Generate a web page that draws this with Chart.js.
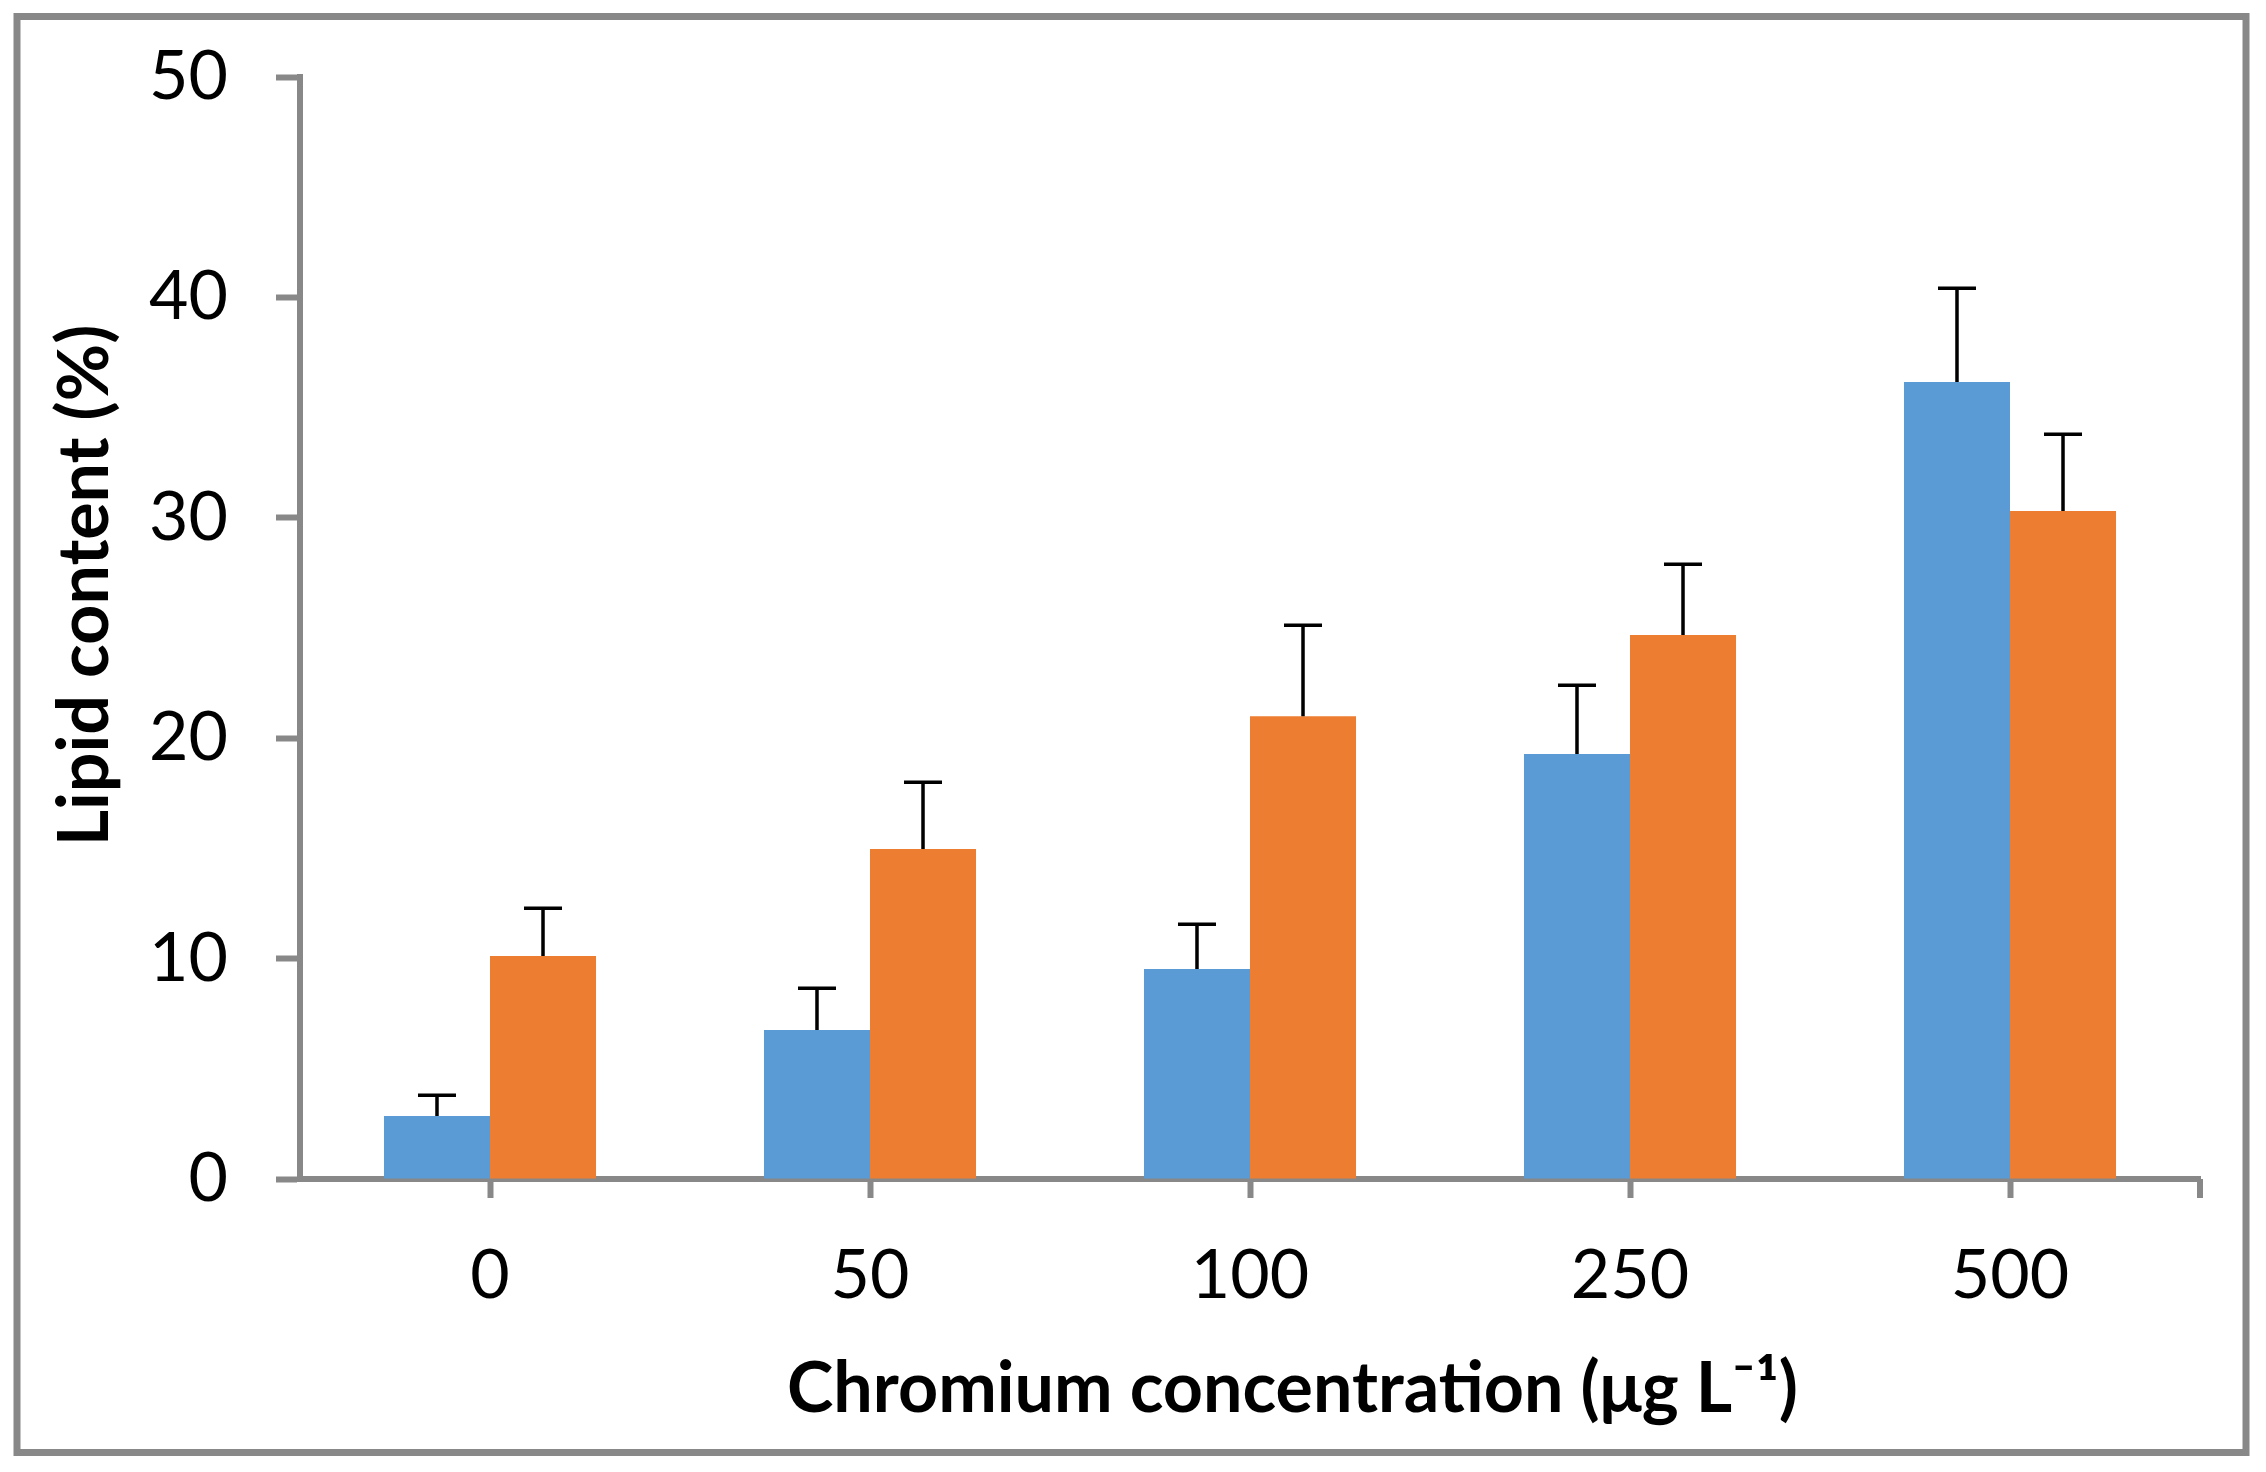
<!DOCTYPE html>
<html>
<head>
<meta charset="utf-8">
<script src="https://cdn.jsdelivr.net/npm/chart.js@4.4.1/dist/chart.umd.min.js"></script>
<style>
  html, body { margin: 0; padding: 0; background: #fff; }
  #wrap { width: 2266px; height: 1472px; }
</style>
</head>
<body>
<div id="wrap"><canvas id="myChart" width="2266" height="1472"></canvas></div>
<script>
  const labels = ['0', '50', '100', '250', '500'];

  const seriesA = [2.86, 6.76, 9.53, 19.28, 36.16];
  const errorsA = [0.94, 1.89, 2.03, 3.12, 4.25];

  const seriesB = [10.12, 14.97, 21.0, 24.68, 30.31];
  const errorsB = [2.16, 3.03, 4.12, 3.21, 3.48];

  const yTicks = [0, 10, 20, 30, 40, 50];

  const gray = '#888888';
  // titles sit a bit off-centre in the original, nbsp pushes them over
  const pad = '\u00a0\u00a0\u00a0\u00a0\u00a0';

  const errorBars = {
    id: 'errorBars',
    afterDatasetsDraw(chart) {
      const ctx = chart.ctx;
      const y = chart.scales.y;
      ctx.save();
      ctx.strokeStyle = '#000';
      ctx.lineWidth = 3.5;
      chart.data.datasets.forEach((ds, i) => {
        const meta = chart.getDatasetMeta(i);
        meta.data.forEach((bar, j) => {
          const top = y.getPixelForValue(ds.data[j]);
          const end = y.getPixelForValue(ds.data[j] + ds.errors[j]);
          ctx.beginPath();
          ctx.moveTo(bar.x, top);
          ctx.lineTo(bar.x, end);
          ctx.moveTo(bar.x - 19, end);
          ctx.lineTo(bar.x + 19, end);
          ctx.stroke();
        });
      });
      ctx.restore();
    }
  };

  const frame = {
    id: 'frame',
    afterDraw(chart) {
      const ctx = chart.ctx;
      const area = chart.chartArea;
      ctx.save();
      ctx.strokeStyle = gray;
      ctx.lineWidth = 7;
      ctx.strokeRect(17, 16.5, 2229, 1436);
      // tick at the right end of the x axis
      ctx.lineWidth = 6;
      ctx.beginPath();
      ctx.moveTo(area.right, area.bottom);
      ctx.lineTo(area.right, area.bottom + 19);
      ctx.stroke();
      ctx.restore();
    }
  };

  const data = {
    labels: labels,
    datasets: [{
      label: 'A',
      backgroundColor: '#5B9BD5',
      data: seriesA,
      errors: errorsA,
    }, {
      label: 'B',
      backgroundColor: '#ED7D31',
      data: seriesB,
      errors: errorsB,
    }]
  };

  const config = {
    type: 'bar',
    data: data,
    plugins: [errorBars, frame],
    options: {
      responsive: false,
      animation: false,
      devicePixelRatio: 1,
      categoryPercentage: 0.558,
      barPercentage: 1.0,
      layout: { padding: { top: 77, right: 66, left: 0, bottom: 0 } },
      plugins: {
        legend: { display: false },
        tooltip: { enabled: false }
      },
      scales: {
        x: {
          afterFit(scale) { scale.height = 293; },
          grid: {
            offset: false,
            drawOnChartArea: false,
            drawTicks: true,
            tickLength: 19,
            tickWidth: 6,
            tickColor: gray
          },
          border: { display: true, color: gray, width: 6 },
          ticks: {
            color: '#000',
            padding: 37,
            font: { family: 'Lato', size: 68 }
          },
          title: {
            display: true,
            text: pad + 'Chromium concentration (μg L⁻¹)',
            color: '#000',
            font: { family: 'Lato', size: 70, weight: 'bold' },
            padding: { top: 0, bottom: 41 }
          }
        },
        y: {
          min: 0,
          max: 50,
          afterFit(scale) { scale.width = 300; },
          afterBuildTicks(scale) { scale.ticks = yTicks.map(v => ({ value: v })); },
          grid: {
            drawOnChartArea: false,
            drawTicks: true,
            tickLength: 24,
            tickWidth: 6,
            tickColor: gray
          },
          border: { display: true, color: gray, width: 6 },
          ticks: {
            color: '#000',
            padding: 48,
            font: { family: 'Lato', size: 68, lineHeight: 0.5 }
          },
          title: {
            display: true,
            text: pad + 'Lipid content (%)',
            color: '#000',
            font: { family: 'Lato', size: 70, weight: 'bold' },
            padding: { top: 43, bottom: 0 }
          }
        }
      }
    }
  };

  const myChart = new Chart(
    document.getElementById('myChart'),
    config
  );
</script>
</body>
</html>
